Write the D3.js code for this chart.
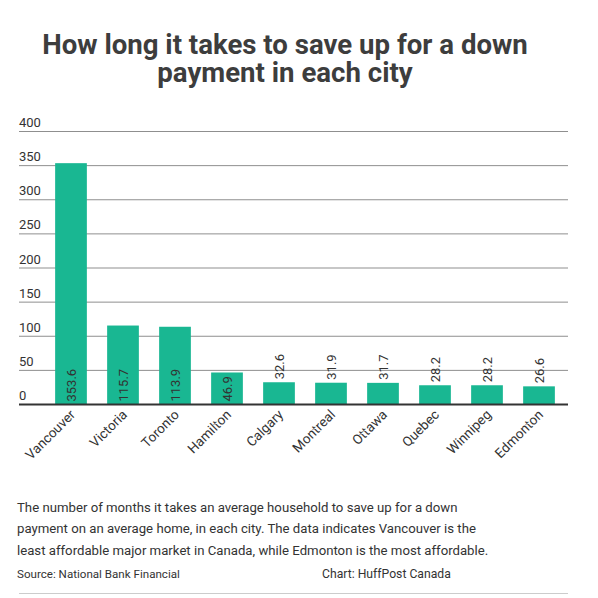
<!DOCTYPE html>
<html>
<head>
<meta charset="utf-8">
<script src="https://cdn.jsdelivr.net/npm/d3@7"></script>
<style>
  body { margin: 0; background: #fff; }
  text { font-family: Roboto, "Noto Sans", sans-serif; }
</style>
</head>
<body>
<svg width="598" height="598"></svg>
<script>
// chart data
const cities = ['Vancouver', 'Victoria', 'Toronto', 'Hamilton', 'Calgary',
    'Montreal', 'Ottawa', 'Quebec', 'Winnipeg', 'Edmonton'];
const months = [353.6, 115.7, 113.9, 46.9, 32.6, 31.9, 31.7, 28.2, 28.2, 26.6];
const yTicks = [0, 50, 100, 150, 200, 250, 300, 350, 400];

const titleLines = ['How long it takes to save up for a down', 'payment in each city'];
const noteLines = [
    'The number of months it takes an average household to save up for a down',
    'payment on an average home, in each city. The data indicates Vancouver is the',
    'least affordable major market in Canada, while Edmonton is the most affordable.'
];

const svg = d3.select('svg');

const barColor = '#19b792';
const textColor = '#333';

const plotLeft = 19, plotRight = 568;
const plotTop = 131.5, plotBottom = 404.5;

// title (one text block, two lines)
svg.append('text')
    .attr('text-anchor', 'middle')
    .style('font-size', '27.6px')
    .style('font-weight', 'bold')
    .attr('fill', '#3d3d3d')
  .selectAll('tspan').data(titleLines)
    .enter().append('tspan')
        .attr('x', 285)
        .attr('y', (d, i) => 53.5 + i * 28)
        .text(d => d);

// scales
const x = d3.scaleBand()
    .domain(cities)
    .range([45, 565])
    .paddingInner(0.39)
    .paddingOuter(0.195);

const y = d3.scaleLinear()
    .domain([0, 400])
    .range([plotBottom, plotTop]);

// grid lines + tick labels
const grid = svg.append('g');
grid.selectAll('line').data(yTicks.filter(d => d > 0))
    .enter().append('line')
        .attr('x1', plotLeft).attr('x2', plotRight)
        .attr('y1', d => y(d)).attr('y2', d => y(d))
        .attr('stroke', '#8f8f8f')
        .attr('stroke-width', 1);

grid.selectAll('text').data(yTicks)
    .enter().append('text')
        .attr('x', plotLeft)
        .attr('y', d => y(d) - 4.5)
        .style('font-size', '13px')
        .attr('fill', textColor)
        .text(d => d);

// bars
const chart = svg.append('g');
const bars = cities.map((c, i) => ({ city: c, value: months[i] }));

chart.selectAll('rect').data(bars)
    .enter().append('rect')
        .attr('x', d => x(d.city))
        .attr('y', d => y(d.value))
        .attr('width', x.bandwidth())
        .attr('height', d => y(0) - y(d.value))
        .attr('fill', barColor);

// value labels: inside the bar if it fits, otherwise above
const fitsInside = d => (y(0) - y(d.value)) > 28;
chart.selectAll('.val').data(bars)
    .enter().append('text')
        .attr('class', 'val')
        .attr('transform', d => {
            const cx = x(d.city) + x.bandwidth() / 2 + 4.5;
            const yy = fitsInside(d) ? y(0) - 3 : y(d.value) - 3;
            return `translate(${cx},${yy}) rotate(-90)`;
        })
        .attr('text-anchor', 'start')
        .style('font-size', '13px')
        .attr('fill', textColor)
        .text(d => d.value.toFixed(1));

// baseline
svg.append('line')
    .attr('x1', plotLeft).attr('x2', plotRight)
    .attr('y1', y(0)).attr('y2', y(0))
    .attr('stroke', '#333')
    .attr('stroke-width', 2);

// category labels
chart.selectAll('.cat').data(bars)
    .enter().append('text')
        .attr('class', 'cat')
        .attr('transform', d => {
            const cx = x(d.city) + x.bandwidth() / 2 + 5;
            return `translate(${cx},${y(0) + 11}) rotate(-45)`;
        })
        .attr('text-anchor', 'end')
        .style('font-size', '13.5px')
        .attr('fill', textColor)
        .text(d => d.city);

// footnote
svg.append('g').selectAll('text').data(noteLines)
    .enter().append('text')
        .attr('x', 17)
        .attr('y', (d, i) => 511.5 + i * 21.7)
        .style('font-size', '13.2px')
        .attr('fill', textColor)
        .text(d => d);

svg.append('text')
    .attr('x', 17).attr('y', 577.5)
    .style('font-size', '11.6px')
    .attr('fill', textColor)
    .text('Source: National Bank Financial');

svg.append('text')
    .attr('x', 322).attr('y', 577.5)
    .style('font-size', '12.2px')
    .attr('fill', textColor)
    .text('Chart: HuffPost Canada');

svg.append('line')
    .attr('x1', plotLeft).attr('x2', plotRight)
    .attr('y1', 593.5).attr('y2', 593.5)
    .attr('stroke', '#ccc')
    .attr('stroke-width', 1);
</script>
</body>
</html>
